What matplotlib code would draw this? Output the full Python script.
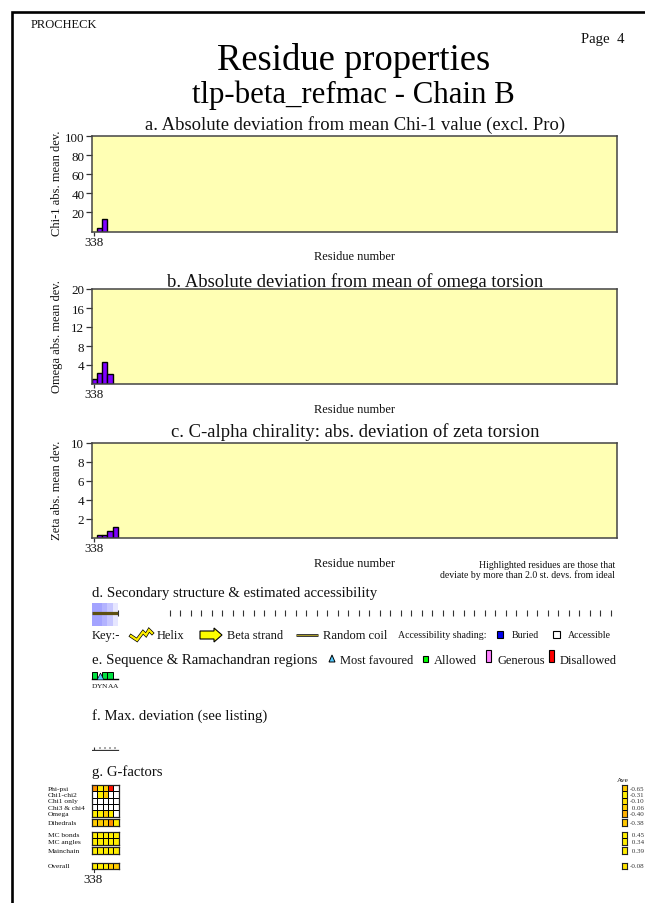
import numpy as np
import matplotlib
matplotlib.use("Agg")
import matplotlib.pyplot as plt
from matplotlib.colors import ListedColormap
from matplotlib.patches import Rectangle, Polygon

plt.rcParams['font.family'] = ['Liberation Serif', 'DejaVu Serif']

# ---- data ----
chi_res = [339, 340]
chi_val = [3.5, 13]
omega_res = [338, 339, 340, 341]
omega_val = [1.0, 2.4, 4.6, 2.2]
zeta_res = [339, 340, 341, 342]
zeta_val = [0.25, 0.25, 0.67, 1.1]
chi_ticks = [20, 40, 60, 80, 100]
omega_ticks = [4, 8, 12, 16, 20]
zeta_ticks = [2, 4, 6, 8, 10]
access_res = [338, 339, 340, 341, 342]
access_level = [0.36, 0.36, 0.30, 0.22, 0.10]
sequence = "DYNAA"
rama_res = [338, 339, 340, 341]
rama_region = ['allowed', 'favoured', 'allowed', 'allowed']
g_rows_torsion = ['Phi-psi', 'Chi1-chi2', 'Chi1 only', 'Chi3 & chi4', 'Omega']
g_torsion = [[3, 1, 2, 4, 0],
             [0, 1, 2, 0, 0],
             [0, 0, 0, 0, 0],
             [0, 0, 0, 0, 0],
             [1, 1, 2, 1, 0]]
g_dihedrals = [[2, 2, 2, 3, 1]]
g_mc = [[1, 1, 1, 1, 1], [1, 1, 1, 1, 1]]
g_main = [[1, 1, 1, 1, 1]]
g_overall = [[1, 1, 1, 2, 2]]
ave_torsion = ['-0.65', '-0.31', '-0.10', '0.06', '-0.40']
ave_dihedrals = ['-0.38']
ave_mc = ['0.45', '0.34']
ave_main = ['0.39']
ave_overall = ['-0.08']

W, H = 645, 904
TXT = '#111111'
fig = plt.figure(figsize=(W / 100, H / 100), dpi=100, facecolor='white')
page = fig.add_axes([0, 0, 1, 1])
page.set_xlim(0, W); page.set_ylim(H, 0); page.axis('off')


def ax_px(x0, y0, x1, y1, **kw):
    return fig.add_axes([x0 / W, 1 - y1 / H, (x1 - x0) / W, (y1 - y0) / H], **kw)


def t(x, y, s, size, ha='left', va='center', **kw):
    kw.setdefault('color', TXT)
    return page.text(x, y, s, fontsize=size, ha=ha, va=va, **kw)


XL = (337.55, 437.55)
# page frame (open at the bottom and right edge of the image)
page.plot([645, 12, 12], [13, 13, 904], color='black', lw=1.9, clip_on=False,
          solid_joinstyle='miter')
t(31, 25.5, 'PROCHECK', 9.0)
t(581, 39.5, 'Page  4', 10.6)
t(354, 60, 'Residue properties', 26.4, ha='center', color='black')
t(353.5, 95, 'tlp-beta_refmac - Chain B', 22.2, ha='center', color='black')


def panel(box, res, val, ymax, ticks, title, ylab, ty, ly, xlaby):
    ax = ax_px(*box)
    ax.set_facecolor('#ffffb4')
    ax.bar(res, val, width=1.0, color='#7f00ff', edgecolor='black', linewidth=1.0)
    ax.set_xlim(*XL); ax.set_ylim(0, ymax)
    ax.set_yticks(ticks); ax.set_xticks([338]); ax.set_xticklabels(['338'])
    ax.tick_params(axis='y', labelsize=9.4, length=4, width=0.9, pad=1.5,
                   color='#333333', labelcolor=TXT)
    ax.tick_params(axis='x', labelsize=9.4, length=3, width=0.9, pad=0,
                   color='#333333', labelcolor=TXT)
    for s in ax.spines.values():
        s.set_color('#444444'); s.set_linewidth(1.1)
    t(355.5, ty, title, 13.4, ha='center')
    t(ly, (box[1] + box[3]) / 2 - 1, ylab, 9.0, ha='center', rotation=90)
    t(354, xlaby, 'Residue number', 8.9, ha='center')
    return ax


panel((92, 137, 617, 232.5), chi_res, chi_val, 100, chi_ticks,
      'a. Absolute deviation from mean Chi-1 value (excl. Pro)',
      'Chi-1 abs. mean dev.', 125, 57, 257)
panel((92, 290, 617, 385), omega_res, omega_val, 20, omega_ticks,
      'b. Absolute deviation from mean of omega torsion',
      'Omega abs. mean dev.', 282, 57, 410)
panel((92, 444, 617, 538.5), zeta_res, zeta_val, 10, zeta_ticks,
      'c. C-alpha chirality: abs. deviation of zeta torsion',
      'Zeta abs. mean dev.', 432, 57, 564)

t(615, 565.5, 'Highlighted residues are those that', 7.0, ha='right')
t(615, 575, 'deviate by more than 2.0 st. devs. from ideal', 7.0, ha='right')

# ---- d. secondary structure ----
t(92, 593.5, 'd. Secondary structure & estimated accessibility', 10.6)
axd = ax_px(92, 604, 617, 627)
axd.set_xlim(*XL); axd.set_ylim(-1, 1); axd.axis('off')
for r, a in zip(access_res, access_level):
    c = (1 - a, 1 - a, 1.0)
    axd.bar(r, 2, bottom=-1, width=1.0, color=c, linewidth=0)
axd.plot([access_res[0] - 0.5, access_res[-1] + 0.5], [0.10, 0.10], color='#5e5010', lw=2.3,
         solid_capstyle='butt')
axd.vlines(np.arange(352.4, 437, 2.0), -0.13, 0.35, color='#333333', lw=0.8)
axd.vlines(access_res[-1] + 0.5, -0.13, 0.35, color='#333333', lw=0.8)

# key
t(92, 636.5, 'Key:-', 9.0)
hx = [131, 137, 143, 146, 149, 152]
hy = [637, 641, 633, 636, 631, 634]
page.plot(hx, hy, color='black', lw=2.6, solid_joinstyle='miter')
page.plot(hx, hy, color='#ffee00', lw=1.6, solid_joinstyle='miter')
t(157, 636.5, 'Helix', 9.0)
page.add_patch(Polygon([(200, 632), (214, 632), (214, 629), (222, 636), (214, 643),
                        (214, 640), (200, 640)], fc='#ffff00', ec='black', lw=0.8))
t(227, 636.5, 'Beta strand', 8.9)
page.plot([296, 318], [635.5, 635.5], color='black', lw=1.8, solid_capstyle='butt')
page.plot([296, 318], [635.5, 635.5], color='#c8b830', lw=0.6, solid_capstyle='butt')
t(323, 636.5, 'Random coil', 9.0)
t(398, 636, 'Accessibility shading:', 7.1)
page.add_patch(Rectangle((496.5, 632), 6.5, 6.5, fc='#0000ee', ec='black', lw=0.8))
t(512, 636, 'Buried', 7.1)
page.add_patch(Rectangle((553, 632), 6.5, 6.5, fc='white', ec='black', lw=0.8))
t(568, 636, 'Accessible', 7.1)

# ---- e. sequence ----
t(92, 660.5, 'e. Sequence & Ramachandran regions', 10.6)
page.add_patch(Polygon([(329, 663), (335, 663), (332, 656)], fc='#55ccff', ec='black', lw=0.7))
t(340, 661, 'Most favoured', 9.0)
page.add_patch(Rectangle((422.5, 657), 5.5, 6, fc='#00ff00', ec='black', lw=0.8))
t(434, 661, 'Allowed', 9.0)
page.add_patch(Rectangle((486, 651), 5, 12, fc='#ff80ff', ec='black', lw=0.8))
t(497, 661, 'Generous', 9.0)
page.add_patch(Rectangle((548.5, 651), 5.5, 12, fc='#ff0000', ec='black', lw=0.8))
t(560, 661, 'Disallowed', 9.0)

axe = ax_px(92, 672.5, 617, 680)
axe.set_xlim(*XL); axe.set_ylim(0, 1); axe.axis('off')
for r, reg in zip(rama_res, rama_region):
    if reg == 'allowed':
        axe.bar(r, 0.9, width=1.0, color='#00e040', edgecolor='black', linewidth=0.7)
    else:
        axe.scatter([r], [0.45], marker='^', s=24, color='#55ccff', edgecolor='black', linewidth=0.5,
                    zorder=3)
axe.plot([338 - 0.5, 342 + 0.5], [0.03, 0.03], color='black', lw=1.0, clip_on=False)
for r, ch in zip(access_res, sequence):
    axe.text(r, -0.9, ch, fontsize=5.4, ha='center', va='center', color=TXT, clip_on=False)

# ---- f. max deviation ----
t(92, 716, 'f. Max. deviation (see listing)', 10.6)
axf = ax_px(92, 745, 617, 752)
axf.set_xlim(*XL); axf.set_ylim(0, 1); axf.axis('off')
axf.plot([337.55, 342.5], [0.1, 0.1], color='#333333', lw=0.9)
axf.vlines(338, 0.1, 0.6, color='#333333', lw=0.8)
axf.scatter([339, 340, 341, 342], [0.45] * 4, marker='s', s=1.5, color='#aaaaaa', linewidths=0)

# ---- g. G-factors ----
t(92, 772, 'g. G-factors', 10.6)
G_COL = ListedColormap(['white', '#ffee00', '#ffcc00', '#ff9000', '#ff1000'])


def gblock(y0, y1, rows, labels, aves, ave_cols):
    ax = ax_px(92, y0, 118.5, y1)
    ax.pcolormesh(np.array(rows)[::-1], cmap=G_COL, vmin=0, vmax=4, edgecolors='black', linewidth=0.7)
    ax.set_xticks([]); ax.set_yticks([])
    for s in ax.spines.values():
        s.set_linewidth(0.9); s.set_color('#222222')
    n = len(labels)
    h = (y1 - y0) / n
    axa = ax_px(622, y0, 627, y1)
    axa.pcolormesh(np.arange(n)[::-1].reshape(-1, 1),
                   cmap=ListedColormap(ave_cols[::-1]), edgecolors='black', linewidth=0.6)
    axa.set_xticks([]); axa.set_yticks([])
    for s in axa.spines.values():
        s.set_linewidth(0.8); s.set_color('#222222')
    for i, (lab, av) in enumerate(zip(labels, aves)):
        yy = y0 + h * (i + 0.5)
        t(48, yy, lab, 5.4)
        t(630, yy, av if av.startswith('-') else ' ' + av, 5.0, clip_on=False, color='#333333')


gblock(786, 817.5, g_torsion, g_rows_torsion, ave_torsion,
       ['#ffb000', '#ffd000', '#ffe000', '#ffee00', '#ffc800'])
gblock(820, 826.8, g_dihedrals, ['Dihedrals'], ave_dihedrals, ['#ffc800'])
gblock(832.5, 845.5, g_mc, ['MC bonds', 'MC angles'], ave_mc, ['#ffee00', '#ffee00'])
gblock(848, 855, g_main, ['Mainchain'], ave_main, ['#ffee00'])
gblock(863.5, 870, g_overall, ['Overall'], ave_overall, ['#ffe400'])
t(623, 781, 'Ave', 5.3, ha='center')
page.plot([93.5, 93.5], [870, 873], color='#333333', lw=0.8)
t(92.5, 880, '338', 9.4, ha='center')

fig.savefig('out.png', dpi=100)
